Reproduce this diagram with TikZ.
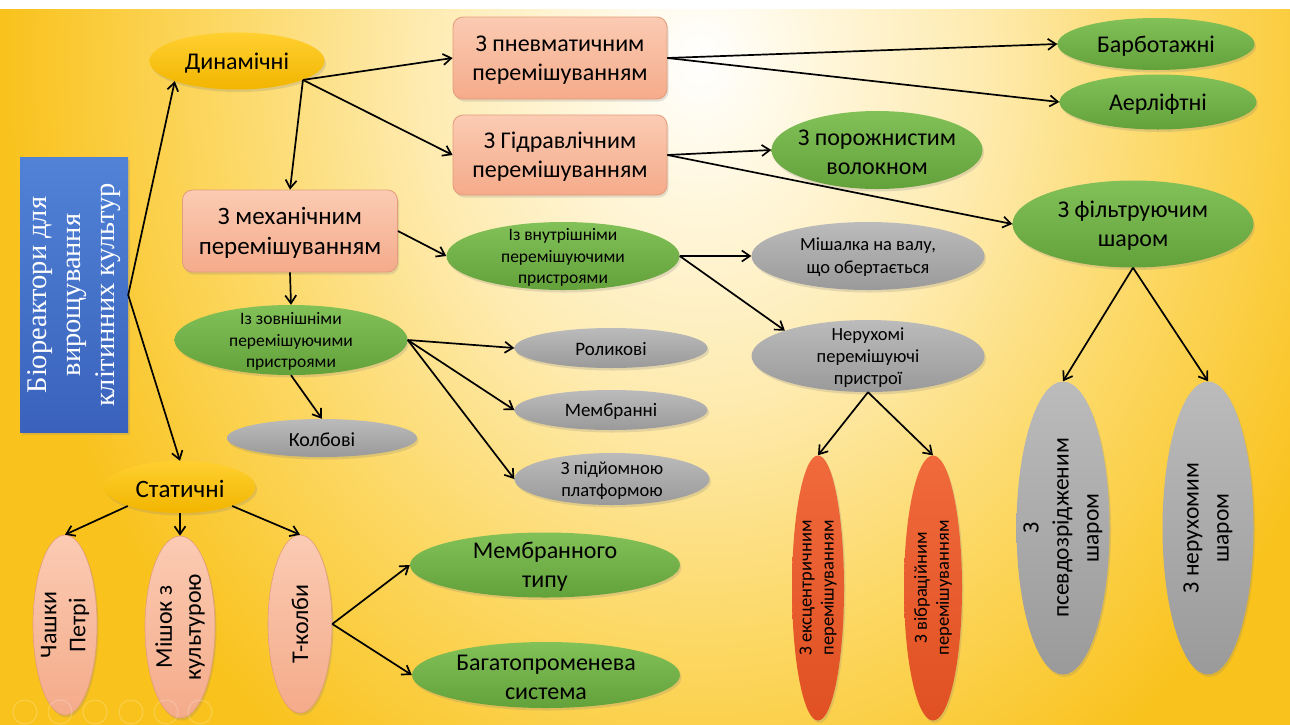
\documentclass[tikz,border=0pt]{standalone}
\usepackage{fontspec}
\setmainfont{Carlito}
\newfontfamily\serifua{Liberation Serif}
\usetikzlibrary{shapes.geometric,arrows.meta,shadows}
\definecolor{bgA}{HTML}{FFF7DE}
\definecolor{bgB}{HTML}{FEEBB0}
\definecolor{bgC}{HTML}{FCD865}
\definecolor{bgD}{HTML}{F9C21C}
\definecolor{gold1}{HTML}{FFD030}
\definecolor{gold2}{HTML}{F2B500}
\definecolor{sal1}{HTML}{FBCBB3}
\definecolor{sal2}{HTML}{F4AB8A}
\definecolor{salB}{HTML}{E39C7C}
\definecolor{grn1}{HTML}{82C058}
\definecolor{grn2}{HTML}{63A23B}
\definecolor{gry1}{HTML}{BBBBBB}
\definecolor{gry2}{HTML}{9A9A9A}
\definecolor{red1}{HTML}{F06A3C}
\definecolor{red2}{HTML}{E05022}
\definecolor{blu1}{HTML}{5082D6}
\definecolor{blu2}{HTML}{3A62BC}
\pgfdeclareradialshading{slidebg}{\pgfpoint{0bp}{0bp}}{color(0bp)=(white); color(4bp)=(bgA); color(10bp)=(bgB); color(17bp)=(bgC); color(25bp)=(bgD); color(50bp)=(bgD)}
\tikzset{
  shd/.style={drop shadow={shadow xshift=1.5pt,shadow yshift=-2.5pt,opacity=0.22}},
  arr/.style={-{Straight Barb[length=8pt,width=11pt]}, line width=1.7pt, black},
  shp/.style={inner sep=0pt, shd},
  el/.style={shp, ellipse},
  goldE/.style={el, top color=gold1, bottom color=gold2},
  grnE/.style={el, top color=grn1, bottom color=grn2},
  gryE/.style={el, top color=gry1, bottom color=gry2},
  salE/.style={el, top color=sal1, bottom color=sal2, draw=salB, line width=0.6pt},
  redE/.style={el, top color=red1, bottom color=red2},
  rbox/.style={shp, rectangle, rounded corners=10pt, top color=sal1, bottom color=sal2, draw=salB, line width=0.8pt, minimum width=214pt, minimum height=82pt},
  txt/.style={inner sep=0pt, align=center, text=black},
  tL/.style={txt, yshift=-2pt, font=\fontsize{24}{29}\selectfont},
  tM/.style={txt, yshift=-1.5pt, font=\fontsize{19}{23}\selectfont},
  tS/.style={txt, yshift=-1.5pt, font=\fontsize{17.5}{21.5}\selectfont},
  vL/.style={txt, rotate=90, font=\fontsize{24}{29}\selectfont},
  vS/.style={txt, rotate=90, font=\fontsize{18.5}{22}\selectfont},
  vM/.style={txt, rotate=90, font=\fontsize{23.5}{30}\selectfont},
}
\begin{document}
\begin{tikzpicture}[x=1pt,y=-1pt]
\useasboundingbox (0,0) rectangle (1290,724);
\fill[white] (0,0) rectangle (1290,724);
\begin{scope}
\clip (0,9) rectangle (1290,724);
\shade[shading=slidebg] (0,-790) rectangle (1400,910);
\end{scope}
% root
\node[shp, rectangle, rotate=90, minimum width=275pt, minimum height=108pt, top color=blu1, bottom color=blu2] (bio) at (74,295) {};
\node[rotate=90, inner sep=0pt, align=center, text=white, font=\serifua\fontsize{28.5}{34}\selectfont] (bio-t) at (bio) {Біореактори для\\вирощування\\клітинних культур};
% dynamic branch
\node[goldE, minimum width=175pt, minimum height=57pt] (dyn) at (237,61) {};
\node[tL] (dyn-t) at (dyn) {Динамічні};
\node[rbox] (pn) at (560,58) {};
\node[tL] (pn-t) at (pn) {З пневматичним\\перемішуванням};
\node[rbox, minimum height=80pt] (hyd) at (560,155) {};
\node[tL] (hyd-t) at (hyd) {З Гідравлічним\\перемішуванням};
\node[rbox, minimum width=215pt] (mech) at (290,231) {};
\node[tL, font=\fontsize{25}{30}\selectfont] (mech-t) at (mech) {З механічним\\перемішуванням};
\node[grnE, minimum width=197pt, minimum height=52pt] (barb) at (1156,44) {};
\node[tL] (barb-t) at (barb) {Барботажні};
\node[grnE, minimum width=197pt, minimum height=55pt] (aer) at (1158,102) {};
\node[tL] (aer-t) at (aer) {Аерліфтні};
\node[grnE, minimum width=211pt, minimum height=78pt] (por) at (877,150) {};
\node[tL] (por-t) at (por) {З порожнистим\\волокном};
\node[grnE, minimum width=241pt, minimum height=87pt] (filt) at (1133,224) {};
\node[tL] (filt-t) at (filt) {З фільтруючим\\шаром};
\node[grnE, minimum width=233pt, minimum height=68pt] (int) at (563,256) {};
\node[tS] (int-t) at (int) {Із внутрішніми\\перемішуючими\\пристроями};
\node[gryE, minimum width=233pt, minimum height=68pt] (mish) at (868,256) {};
\node[tS, font=\fontsize{18.5}{23}\selectfont] (mish-t) at (mish) {Мішалка на валу,\\що обертається};
\node[gryE, minimum width=233pt, minimum height=72pt] (ner) at (868,356) {};
\node[tS, font=\fontsize{18.5}{22}\selectfont] (ner-t) at (ner) {Нерухомі\\перемішуючі\\пристрої};
\node[grnE, minimum width=233pt, minimum height=70pt] (ext) at (291,340) {};
\node[tS] (ext-t) at (ext) {Із зовнішніми\\перемішуючими\\пристроями};
\node[gryE, minimum width=193pt, minimum height=40pt] (rol) at (611,348) {};
\node[tM] (rol-t) at (rol) {Роликові};
\node[gryE, minimum width=193pt, minimum height=40pt] (mem) at (611,410) {};
\node[tM] (mem-t) at (mem) {Мембранні};
\node[gryE, minimum width=195pt, minimum height=52pt] (pod) at (612,479) {};
\node[tS, font=\fontsize{18.5}{22.5}\selectfont] (pod-t) at (pod) {З підйомною\\платформою};
\node[gryE, minimum width=190pt, minimum height=38pt] (kol) at (322,438) {};
\node[tM, font=\fontsize{20}{24}\selectfont] (kol-t) at (kol) {Колбові};
\node[redE, rotate=90, minimum width=265pt, minimum height=52pt] (ekc) at (818,588) {};
\node[vS] (ekc-t) at (ekc) {З ексцентричним\\перемішуванням};
\node[redE, rotate=90, minimum width=265pt, minimum height=58pt] (vib) at (933,588) {};
\node[vS] (vib-t) at (vib) {З вібраційним\\перемішуванням};
\node[gryE, rotate=90, minimum width=293pt, minimum height=93pt] (pse) at (1063,528) {};
\node[vM] (pse-t) at (pse) {З\\псевдозрідженим\\шаром};
\node[gryE, rotate=90, minimum width=293pt, minimum height=91pt] (neru) at (1208,528) {};
\node[vM] (neru-t) at (neru) {З нерухомим\\шаром};
% static branch
\node[goldE, minimum width=151pt, minimum height=52pt] (stat) at (180,487) {};
\node[tL, font=\fontsize{25}{30}\selectfont] (stat-t) at (stat) {Статичні};
\node[salE, rotate=90, minimum width=180pt, minimum height=64pt] (chash) at (65,625) {};
\node[vL] (chash-t) at (chash) {Чашки\\Петрі};
\node[salE, rotate=90, minimum width=182pt, minimum height=70pt] (mishk) at (180,627) {};
\node[vL] (mishk-t) at (mishk) {Мішок з\\культурою};
\node[salE, rotate=90, minimum width=178pt, minimum height=64pt] (tkol) at (300,624) {};
\node[vL] (tkol-t) at (tkol) {Т-колби};
\node[grnE, minimum width=270pt, minimum height=65pt] (memt) at (545,565) {};
\node[tL] (memt-t) at (memt) {Мембранного\\типу};
\node[grnE, minimum width=268pt, minimum height=66pt] (bag) at (546,675) {};
\node[tL] (bag-t) at (bag) {Багатопроменева\\система};
% connectors
\draw[arr] (bio.south) -- (dyn.198);
\draw[arr] (bio.south) -- (stat.north);
\draw[arr] (dyn.-16) -- (pn.west);
\draw[arr] (dyn.-16) -- (hyd.west);
\draw[arr] (dyn.-16) -- (mech.north);
\draw[arr] (pn.east) -- (barb.west);
\draw[arr] (pn.east) -- (aer.west);
\draw[arr] (hyd.east) -- (por.west);
\draw[arr] (hyd.east) -- (filt.west);
\draw[arr] (mech.east) -- (int.west);
\draw[arr] (mech.south) -- (ext.north);
\draw[arr] (int.east) -- (mish.west);
\draw[arr] (int.east) -- (ner.163);
\draw[arr] (ext.east) -- (rol.west);
\draw[arr] (ext.east) -- (mem.west);
\draw[arr] (ext.east) -- (pod.west);
\draw[arr] (ext.south) -- (kol.north);
\draw[arr] (ner.south) -- (ekc.east);
\draw[arr] (ner.south) -- (vib.east);
\draw[arr] (filt.south) -- (pse.east);
\draw[arr] (filt.south) -- (neru.east);
\draw[arr] (stat.200) -- (chash.east);
\draw[arr] (stat.south) -- (mishk.east);
\draw[arr] (stat.-20) -- (tkol.east);
\draw[arr] (tkol.south) -- (memt.west);
\draw[arr] (tkol.south) -- (bag.west);
% slide-show controls
\foreach \cx in {25,60,95,131,166,200}{
  \draw[white, opacity=0.22, line width=1pt] (\cx,712) circle (12);
}
\end{tikzpicture}
\end{document}
